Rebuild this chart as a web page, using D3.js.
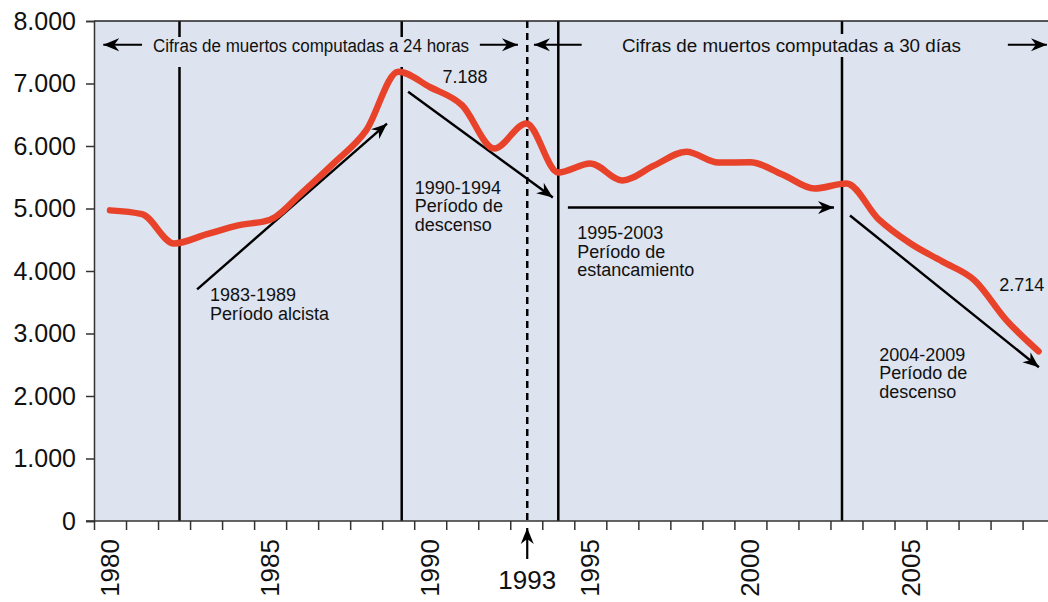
<!DOCTYPE html>
<html>
<head>
<meta charset="utf-8">
<script src="https://cdn.jsdelivr.net/npm/d3@7"></script>
<style>
  body { margin: 0; background: #fff; }
  svg { display: block; font-family: "Liberation Sans", Arial, Helvetica, sans-serif; }
</style>
</head>
<body>
<div id="chart"></div>
<script>
// data (fallecidos por año)
const years = [1980, 1981, 1982, 1983, 1984, 1985, 1986, 1987, 1988, 1989,
               1990, 1991, 1992, 1993, 1994, 1995, 1996, 1997, 1998, 1999,
               2000, 2001, 2002, 2003, 2004, 2005, 2006, 2007, 2008, 2009];
const deaths = [4970, 4910, 4440, 4585, 4730, 4820, 5255, 5730, 6250, 7188,
                6940, 6650, 5960, 6360, 5575, 5720, 5450, 5690, 5910, 5735,
                5740, 5545, 5320, 5400, 4830, 4440, 4150, 3850, 3210, 2714];
const yTicks = [0, 1000, 2000, 3000, 4000, 5000, 6000, 7000, 8000];
const labelYears = [1980, 1985, 1990, 1995, 2000, 2005];
const solidLines = [1982.67, 1989.61, 1994.5, 2003.36];
const dashedLine = 1993.53;

const width = 1048, height = 602;
const margin = { top: 21, left: 94, bottom: 81 };

const svg = d3.select('#chart').append('svg')
    .attr('width', width)
    .attr('height', height);

const x = d3.scaleLinear()
    .domain([1980, 2010])
    .range([margin.left, margin.left + 30 * 32.02]);

const y = d3.scaleLinear()
    .domain([0, 8000])
    .range([height - margin.bottom, margin.top]);

const es = d3.formatLocale({ decimal: ',', thousands: '.', grouping: [3], currency: ['', '€'] });
const fmt = es.format(',');

// arrow head
svg.append('defs').append('marker')
    .attr('id', 'head')
    .attr('markerUnits', 'userSpaceOnUse')
    .attr('viewBox', '-16 -7 17 14')
    .attr('refX', 0).attr('refY', 0)
    .attr('markerWidth', 17).attr('markerHeight', 14)
    .attr('orient', 'auto')
    .append('path')
    .attr('d', 'M0,0 L-16,-6.5 L-11,0 L-16,6.5 Z')
    .attr('fill', '#000');

// plot background
svg.append('rect')
    .attr('x', x(1980))
    .attr('y', y(8000))
    .attr('width', width - x(1980))
    .attr('height', y(0) - y(8000))
    .attr('fill', '#dde3ef');

// period lines
svg.selectAll('.vline')
    .data(solidLines)
    .enter().append('line')
    .attr('x1', d => x(d)).attr('x2', d => x(d))
    .attr('y1', y(8000)).attr('y2', y(0))
    .attr('stroke', '#000')
    .attr('stroke-width', 2.5);

svg.append('line')
    .attr('x1', x(dashedLine)).attr('x2', x(dashedLine))
    .attr('y1', y(8000)).attr('y2', y(0))
    .attr('stroke', '#000')
    .attr('stroke-width', 2.5)
    .attr('stroke-dasharray', '7,5');

// top border
svg.append('line')
    .attr('x1', x(1980)).attr('x2', width)
    .attr('y1', y(8000)).attr('y2', y(8000))
    .attr('stroke', '#222')
    .attr('stroke-width', 1.5);

// header texts, with a gap in the vertical lines behind them
const headers = [
    { text: 'Cifras de muertos computadas a 24 horas', t: 1986.78, len: 316, gap: [37, 67],
      arrows: [[1981.5, 1980.29], [1992.05, 1993.24]] },
    { text: 'Cifras de muertos computadas a 30 días', t: 2001.78, len: 339, gap: [34, 57],
      arrows: [[1995.23, 1993.74], [2008.54, 2009.76]] }
];

headers.forEach(h => {
    svg.append('rect')
        .attr('x', x(h.t) - h.len / 2 - 3)
        .attr('y', h.gap[0])
        .attr('width', h.len + 6)
        .attr('height', h.gap[1] - h.gap[0])
        .attr('fill', '#dde3ef');
    svg.append('text')
        .attr('x', x(h.t))
        .attr('y', y(7508))
        .attr('text-anchor', 'middle')
        .attr('textLength', h.len)
        .attr('lengthAdjust', 'spacingAndGlyphs')
        .style('font-size', '18px')
        .attr('fill', '#111')
        .text(h.text);
    h.arrows.forEach(a => {
        svg.append('line')
            .attr('x1', x(a[0])).attr('x2', x(a[1]))
            .attr('y1', y(7620)).attr('y2', y(7620))
            .attr('stroke', '#000')
            .attr('stroke-width', 2.2)
            .attr('marker-end', 'url(#head)');
    });
});

// trend arrows
const trends = [
    [1983.22, 3706, 1989.15, 6358],
    [1989.81, 6869, 1994.33, 5176],
    [1994.80, 5016, 2003.11, 5016],
    [2003.61, 4888, 2009.51, 2460]
];
svg.selectAll('.trend')
    .data(trends)
    .enter().append('line')
    .attr('x1', d => x(d[0])).attr('y1', d => y(d[1]))
    .attr('x2', d => x(d[2])).attr('y2', d => y(d[3]))
    .attr('stroke', '#000')
    .attr('stroke-width', 2.4)
    .attr('marker-end', 'url(#head)');

// annotation texts
const notes = [
    { t: 1983.62, v: 3519, lines: ['1983-1989', 'Período alcista'] },
    { t: 1990.02, v: 5235, lines: ['1990-1994', 'Período de', 'descenso'] },
    { t: 1995.09, v: 4505, lines: ['1995-2003', 'Período de', 'estancamiento'] },
    { t: 2004.52, v: 2561, lines: ['2004-2009', 'Período de', 'descenso'] },
    { t: 1990.88, v: 7013, lines: ['7.188'] },
    { t: 2008.27, v: 3674, lines: ['2.714'] }
];
notes.forEach(n => {
    const txt = svg.append('text')
        .attr('x', x(n.t))
        .attr('y', y(n.v))
        .style('font-size', '18px')
        .attr('fill', '#111');
    n.lines.forEach((l, i) => {
        txt.append('tspan')
            .attr('x', x(n.t))
            .attr('dy', i === 0 ? 0 : 18.5)
            .text(l);
    });
});

// the series
const line = d3.line()
    .x((d, i) => x(years[i] + 0.5))
    .y(d => y(d))
    .curve(d3.curveMonotoneX);

svg.append('path')
    .datum(deaths)
    .attr('fill', 'none')
    .attr('stroke', '#e8432a')
    .attr('stroke-width', 6.5)
    .attr('stroke-linecap', 'round')
    .attr('stroke-linejoin', 'round')
    .attr('d', line);

// y axis
const yAxis = svg.append('g')
    .attr('transform', `translate(${x(1980)},0)`)
    .call(d3.axisLeft(y).tickValues(yTicks).tickFormat(fmt).tickSize(8).tickPadding(10));
yAxis.select('.domain').attr('stroke', '#333').attr('stroke-width', 1.5);
yAxis.selectAll('.tick line').attr('stroke', '#333').attr('stroke-width', 1.5);
yAxis.selectAll('.tick text')
    .style('font-size', '25px')
    .style('font-family', '"Liberation Sans", Arial, sans-serif')
    .attr('fill', '#111');

// x axis
const xAxis = svg.append('g')
    .attr('transform', `translate(0,${y(0)})`)
    .call(d3.axisBottom(x).tickValues(years).tickFormat('').tickSize(9).tickSizeOuter(0));
xAxis.select('.domain')
    .attr('d', `M${x(1980) - 8},0H${width}`)
    .attr('stroke', '#333').attr('stroke-width', 1.5);
xAxis.selectAll('.tick line').attr('stroke', '#333').attr('stroke-width', 1.5);

svg.selectAll('.xlab')
    .data(labelYears)
    .enter().append('text')
    .attr('transform', d => `translate(${x(d + 0.5)},${y(0) + 18}) rotate(-90)`)
    .attr('text-anchor', 'end')
    .attr('dominant-baseline', 'central')
    .style('font-size', '26px')
    .attr('fill', '#111')
    .text(d => d);

// 1993 marker below the axis
svg.append('line')
    .attr('x1', x(dashedLine)).attr('x2', x(dashedLine))
    .attr('y1', y(0) + 38).attr('y2', y(0) + 7)
    .attr('stroke', '#000')
    .attr('stroke-width', 2.2)
    .attr('marker-end', 'url(#head)');
svg.append('text')
    .attr('x', x(dashedLine))
    .attr('y', y(0) + 68)
    .attr('text-anchor', 'middle')
    .style('font-size', '26px')
    .attr('fill', '#111')
    .text('1993');
</script>
</body>
</html>
